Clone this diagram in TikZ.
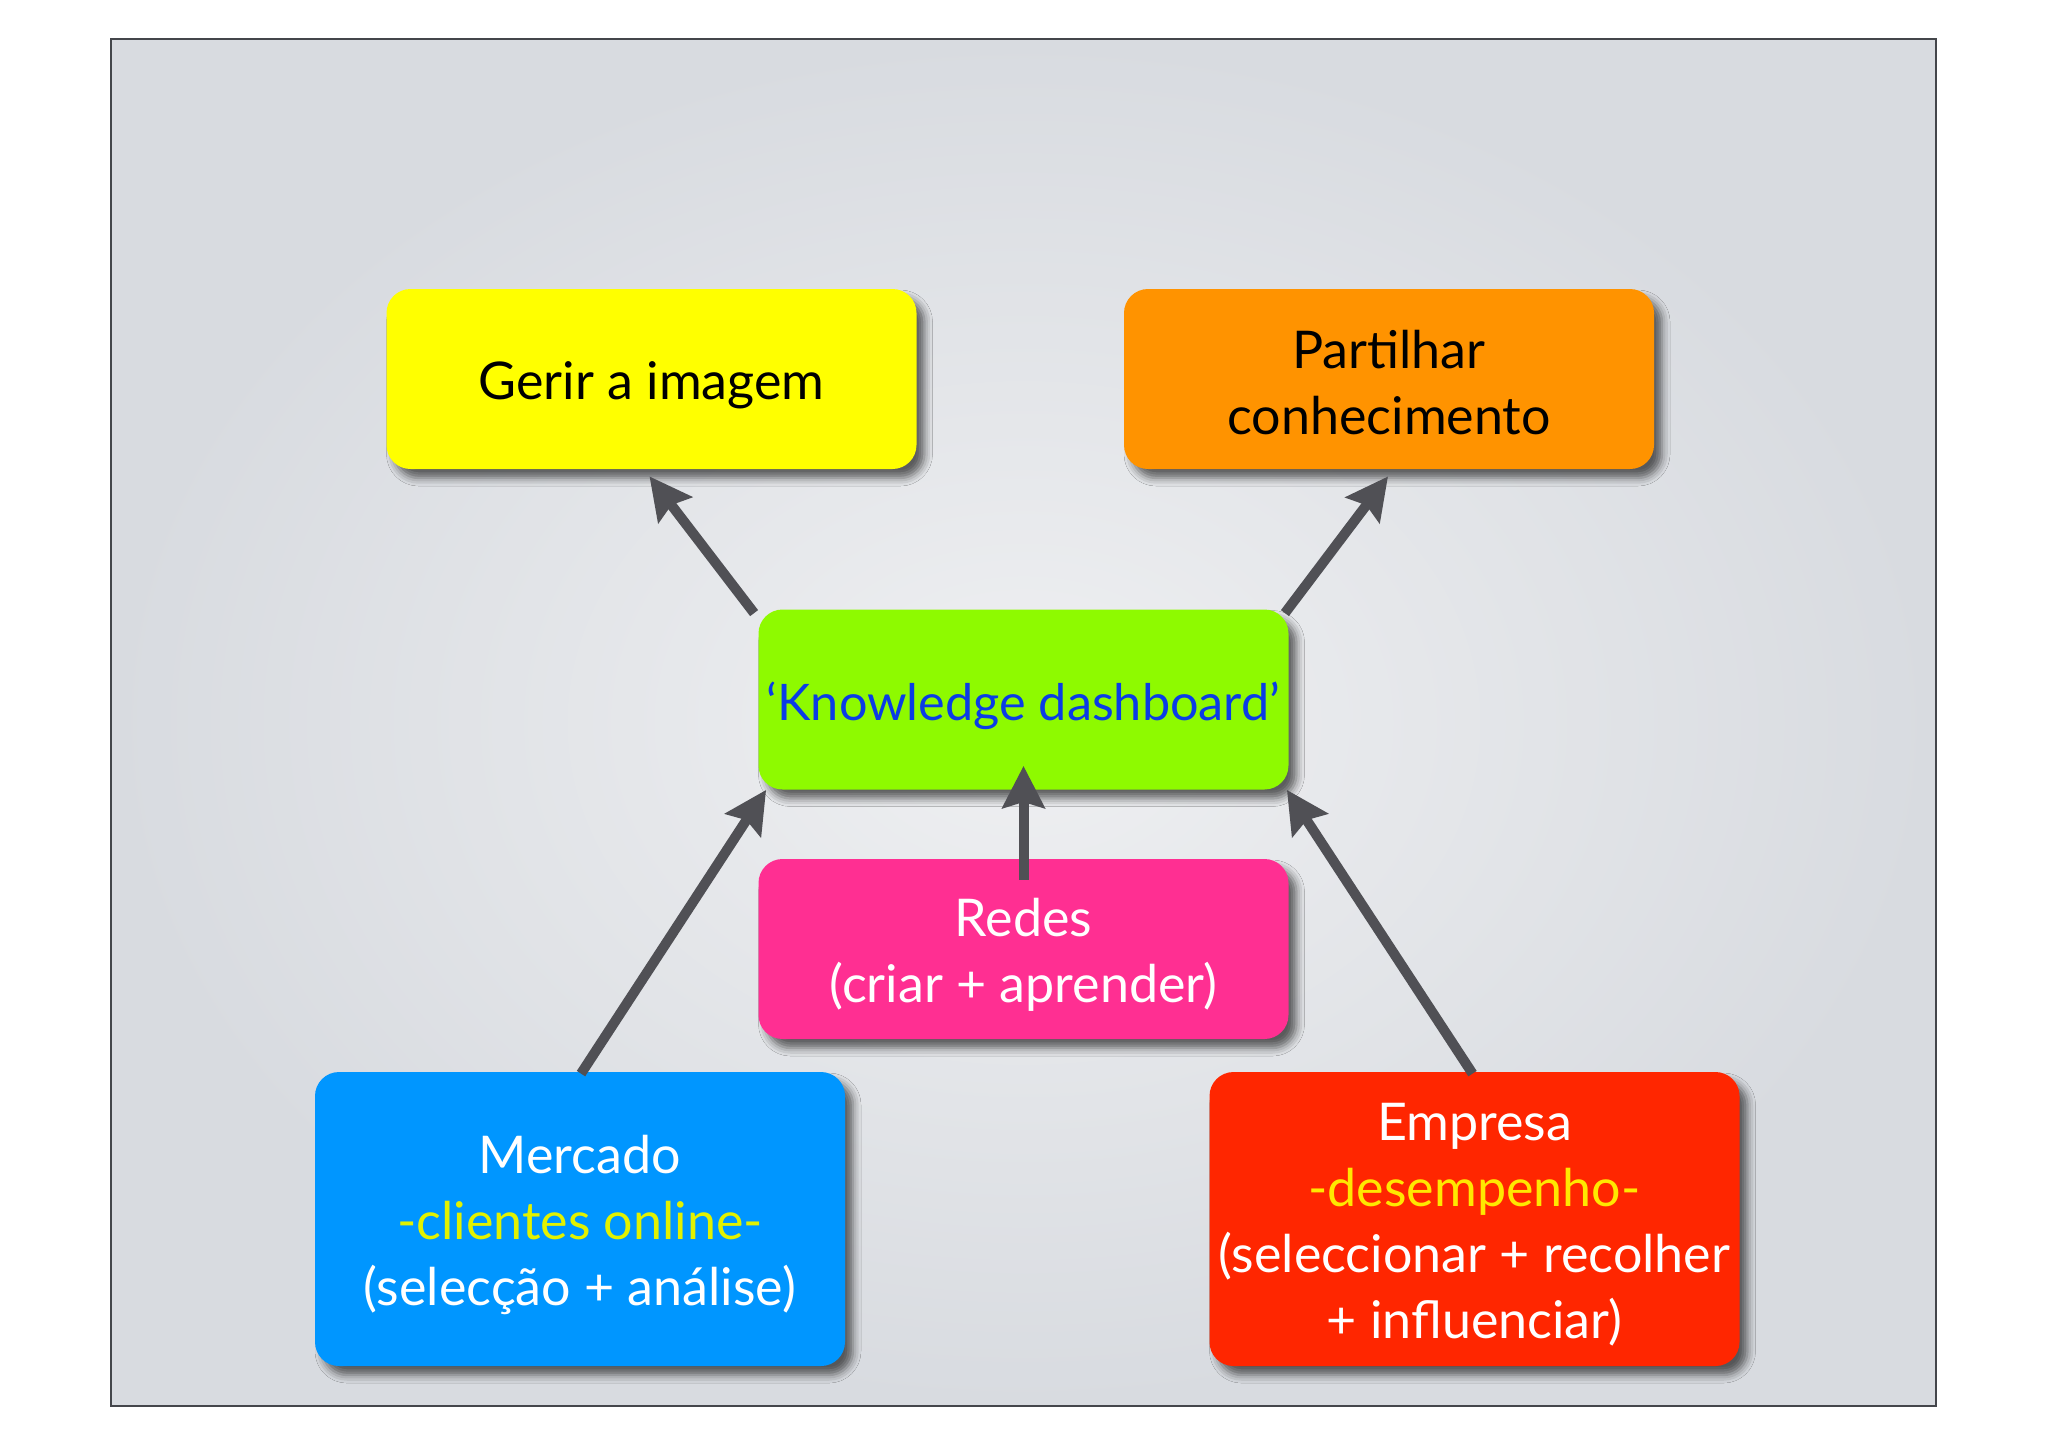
\documentclass[tikz,border=0pt]{standalone}
\usepackage{fontspec}
\setmainfont{Lato}
\usetikzlibrary{arrows.meta,shadows.blur,calc}
\definecolor{bginner}{HTML}{EFF0F2}
\definecolor{bgouter}{HTML}{D8DBE0}
\definecolor{cyellow}{HTML}{FFFF00}
\definecolor{corange}{HTML}{FF9300}
\definecolor{cgreen}{HTML}{8EFA00}
\definecolor{cpink}{HTML}{FF2F92}
\definecolor{cblue}{HTML}{0096FF}
\definecolor{cred}{HTML}{FF2600}
\definecolor{tblue}{HTML}{0A3CE6}
\definecolor{tyellowa}{HTML}{E2F200}
\definecolor{tyellowb}{HTML}{FFE800}
\definecolor{arrowc}{HTML}{505055}
\definecolor{framec}{HTML}{44464B}
\tikzset{
  boxstyle/.style={rounded corners=12pt, minimum width=265pt, inner sep=0pt,
    blur shadow={shadow xshift=4pt, shadow yshift=-4.5pt, shadow blur radius=4pt, shadow opacity=60}},
  smallbox/.style={boxstyle, minimum height=90pt},
  bigbox/.style={boxstyle, minimum height=147pt},
  boxtext/.style={align=center, inner sep=0pt, font=\fontsize{26}{33}\selectfont},
  conn/.style={draw=arrowc, line width=5pt, -{Stealth[length=21pt, width=21pt, inset=3pt]}}
}
\begin{document}
\begin{tikzpicture}[x=0.5pt,y=-0.5pt]
\useasboundingbox (0,0) rectangle (2048,1447);
\fill[white] (0,0) rectangle (2048,1447);
\shade[inner color=bginner, outer color=bgouter] (111,39) rectangle (1936,1406);
\draw[framec, line width=0.9pt] (111,39) rectangle (1936,1406);

\node[smallbox, fill=cyellow] (yellow) at (651.5,379) {};
\node[smallbox, fill=corange] (orange) at (1389,379) {};
\node[smallbox, fill=cgreen] (green) at (1023.5,699.5) {};
\node[smallbox, fill=cpink] (pink) at (1023.5,949) {};
\node[bigbox, fill=cblue] (blue) at (580,1219) {};
\node[bigbox, fill=cred] (red) at (1474.5,1219) {};

\node[boxtext, text=black] (yellowtxt) at ($(yellow.center)+(0,6)$) {Gerir a imagem};
\node[boxtext, text=black] (orangetxt) at ($(orange.center)+(0,4)$) {Partilhar\\conhecimento};
\node[boxtext, text=tblue, font=\fontsize{25.2}{33}\selectfont] (greentxt) at ($(green.center)+(0,6)$) {`Knowledge dashboard'};
\node[boxtext, text=white] (pinktxt) at ($(pink.center)+(0,6)$) {Redes\\(criar + aprender)};
\node[boxtext, text=white] (bluetxt) at ($(blue.center)+(0,6)$) {Mercado\\\textcolor{tyellowa}{-clientes online-}\\(selecção + análise)};
\node[boxtext, text=white] (redtxt) at ($(red.center)+(0,6)$) {Empresa\\\textcolor{tyellowb}{-desempenho-}\\(seleccionar + recolher\\+ influenciar)};

\draw[conn] ($(green.north west)+(-4,4)$) -- ($(yellow.south)+(-2,7)$);
\draw[conn] ($(green.north east)+(-4,4)$) -- ($(orange.south)+(-1,7)$);
\draw[conn] ($(pink.north)+(0,21)$) -- ($(green.south)+(0,-24)$);
\draw[conn] ($(blue.north)+(1,2)$) -- ($(green.south west)+(8,0)$);
\draw[conn] ($(red.north)+(-2,2)$) -- ($(green.south east)+(-2,0)$);
\end{tikzpicture}
\end{document}
